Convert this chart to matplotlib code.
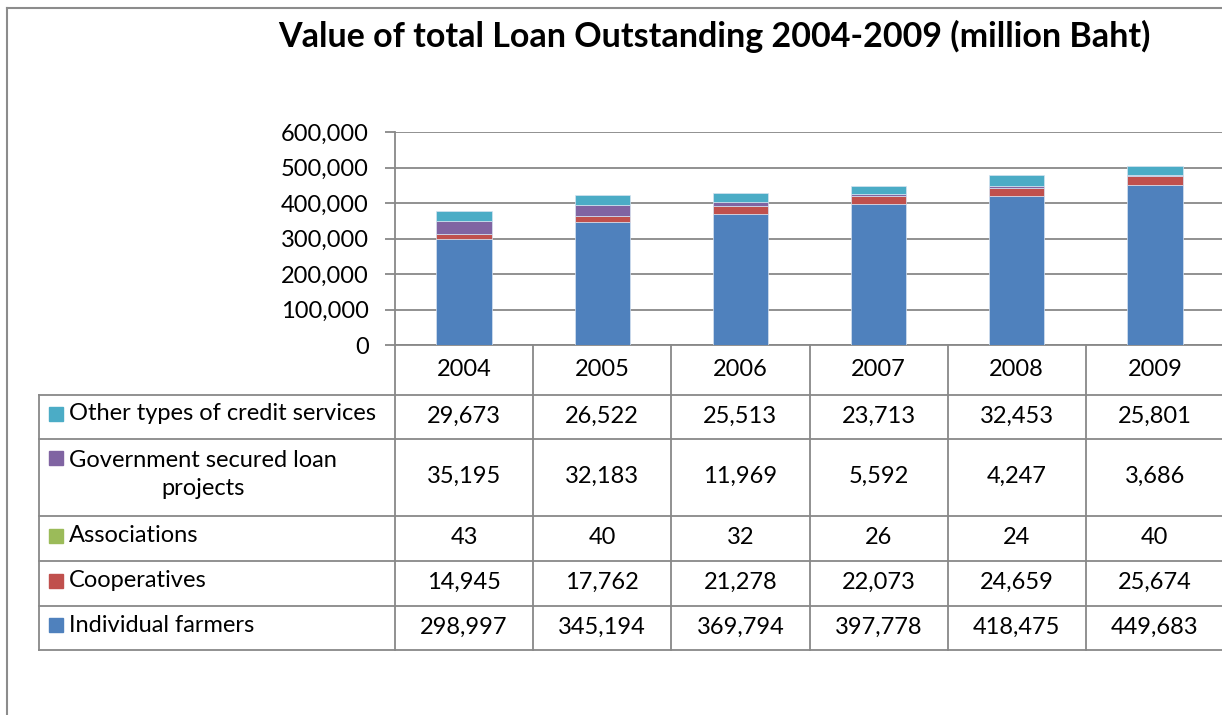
import matplotlib.pyplot as plt
from matplotlib.lines import Line2D
import numpy as np

plt.rcParams['font.family'] = ['Lato', 'DejaVu Sans']

years = ['2004', '2005', '2006', '2007', '2008', '2009']
individual = [298997, 345194, 369794, 397778, 418475, 449683]
cooperatives = [14945, 17762, 21278, 22073, 24659, 25674]
associations = [43, 40, 32, 26, 24, 40]
government = [35195, 32183, 11969, 5592, 4247, 3686]
other = [29673, 26522, 25513, 23713, 32453, 25801]

# stacking order, bottom first
stack = [
    ('Individual farmers', individual, '#4F81BD'),
    ('Cooperatives', cooperatives, '#C0504D'),
    ('Associations', associations, '#9BBB59'),
    ('Government secured loan\nprojects', government, '#8064A2'),
    ('Other types of credit services', other, '#4BACC6'),
]

W, H = 1222, 715
GRID = '#888888'
FS = 17

def fx(px):
    return px / W

def fy(py):
    return 1 - py / H

fig = plt.figure(figsize=(W / 100, H / 100), dpi=100)

plot_l, plot_r, plot_t, plot_b = 395, 1224, 132, 345
ax = fig.add_axes([fx(plot_l), fy(plot_b), (plot_r - plot_l) / W, (plot_b - plot_t) / H])

x = np.arange(len(years))
bottom = np.zeros(len(years))
for name, vals, col in stack:
    ax.bar(x, vals, width=0.4, bottom=bottom, color=col,
           edgecolor='#d6e2f0', linewidth=0.5, zorder=3)
    bottom += np.array(vals)

ax.set_xlim(-0.5, 5.5)
ax.set_ylim(0, 600000)
ax.set_yticks(np.arange(0, 600001, 100000))
ax.set_yticklabels([f'{v:,}' for v in range(0, 600001, 100000)], fontsize=FS)
ax.set_xticks([])
ax.yaxis.grid(True, color=GRID, linewidth=1.3, zorder=0)
ax.tick_params(axis='y', length=7, width=1.3, color=GRID, pad=12)
for s in ['top', 'right']:
    ax.spines[s].set_visible(False)
for s in ['left', 'bottom']:
    ax.spines[s].set_color(GRID)
    ax.spines[s].set_linewidth(1.3)

# data table below the chart, same x scale as the bars, y in pixels
tab = fig.add_axes([fx(plot_l), 0, (plot_r - plot_l) / W, 1])
tab.set_xlim(-0.5, 5.5)
tab.set_ylim(H, 0)
tab.axis('off')

unit = (plot_r - plot_l) / 6
def px2x(px):
    return -0.5 + (px - plot_l) / unit

rows = [395, 439, 516, 561, 606, 650]
left = px2x(39)
for r in rows:
    tab.plot([left, 5.6], [r, r], color=GRID, lw=1.3, clip_on=False)
for i in range(7):
    tab.plot([i - 0.5, i - 0.5], [plot_b, 650], color=GRID, lw=1.3, clip_on=False)
tab.plot([left, left], [395, 650], color=GRID, lw=1.3, clip_on=False)

for i, yr in enumerate(years):
    tab.text(i, 370, yr, ha='center', va='center', fontsize=FS)

table_rows = stack[::-1]
for k, (name, vals, col) in enumerate(table_rows):
    yc = (rows[k] + rows[k + 1]) / 2 - 3
    for i, v in enumerate(vals):
        tab.text(i, yc + 2, f'{v:,}', ha='center', va='center', fontsize=FS)
    my = yc - 17 if '\n' in name else yc
    tab.plot([px2x(56)], [my], marker='s', ms=10.5, color=col, clip_on=False)
    tab.text(px2x(69), yc, name, ha='left', va='center', fontsize=FS,
             multialignment='center', linespacing=1.45)

fig.text(fx(714), fy(36), 'Value of total Loan Outstanding 2004-2009 (million Baht)',
         ha='center', va='center', fontsize=24.5, fontweight='bold')

# chart area border
fig.add_artist(Line2D([fx(7.5), fx(7.5)], [fy(7.5), 0], color='#8c8c8c', lw=1.5))
fig.add_artist(Line2D([fx(7.5), 1], [fy(7.5), fy(7.5)], color='#8c8c8c', lw=1.5))

fig.savefig('out.png', dpi=100, facecolor='white')
